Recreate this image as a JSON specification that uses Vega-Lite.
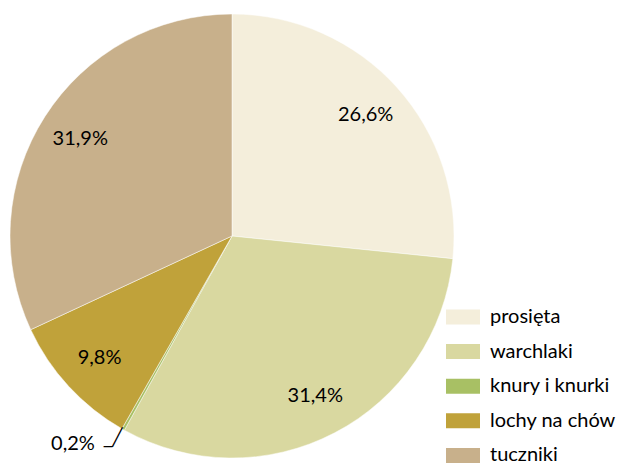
{
  "$schema": "https://vega.github.io/schema/vega-lite/v6.json",
  "width": 464,
  "height": 472,
  "padding": 0,
  "background": "white",
  "config": {"view": {"stroke": null}, "font": "Lato"},
  "data": {"values": [
    {"kat": "prosięta", "udzial": 26.6, "etykieta": "26,6%", "ord": 1},
    {"kat": "warchlaki", "udzial": 31.4, "etykieta": "31,4%", "ord": 2},
    {"kat": "knury i knurki", "udzial": 0.2, "etykieta": "0,2%", "ord": 3},
    {"kat": "lochy na chów", "udzial": 9.8, "etykieta": "9,8%", "ord": 4},
    {"kat": "tuczniki", "udzial": 31.9, "etykieta": "31,9%", "ord": 5}
  ]},
  "encoding": {
    "theta": {"field": "udzial", "type": "quantitative", "stack": true},
    "order": {"field": "ord", "type": "quantitative"}
  },
  "layer": [
    {
      "mark": {"type": "arc", "outerRadius": 222, "stroke": "white", "strokeWidth": 0.5},
      "encoding": {
        "color": {
          "field": "kat", "type": "nominal",
          "sort": ["prosięta", "warchlaki", "knury i knurki", "lochy na chów", "tuczniki"],
          "scale": {"domain": ["prosięta", "warchlaki", "knury i knurki", "lochy na chów", "tuczniki"],
                    "range": ["#F4EEDB", "#D9D8A0", "#A8C064", "#C0A23A", "#C8B08B"]},
          "legend": {
            "title": null, "orient": "none", "legendX": 446, "legendY": 300,
            "symbolType": "M-1,-0.44H1V0.44H-1Z", "symbolSize": 1156, "symbolStrokeWidth": 0,
            "symbolOpacity": 1,
            "labelFont": "Lato", "labelFontSize": 20, "labelColor": "#000000",
            "labelOffset": 10, "rowPadding": 7.6, "labelLimit": 300
          }
        }
      }
    },
    {
      "mark": {"type": "text", "radius": 180, "fontSize": 20, "font": "Lato", "color": "#000000"},
      "encoding": {"text": {"condition": {"test": "datum.udzial > 1", "field": "etykieta"}, "value": ""}}
    },
    {
      "mark": {"type": "text", "radius": 247, "fontSize": 20, "font": "Lato", "color": "#000000", "align": "right", "dx": -16, "dy": -7},
      "encoding": {"text": {"condition": {"test": "datum.udzial <= 1", "field": "etykieta"}, "value": ""}}
    },
    {
      "mark": {"type": "text", "radius": 222, "fontSize": 17, "font": "DejaVu Sans", "color": "#000000", "dx": -10, "dy": 9},
      "encoding": {"text": {"condition": {"test": "datum.udzial <= 1", "value": "_╱"}, "value": ""}}
    }
  ]
}
